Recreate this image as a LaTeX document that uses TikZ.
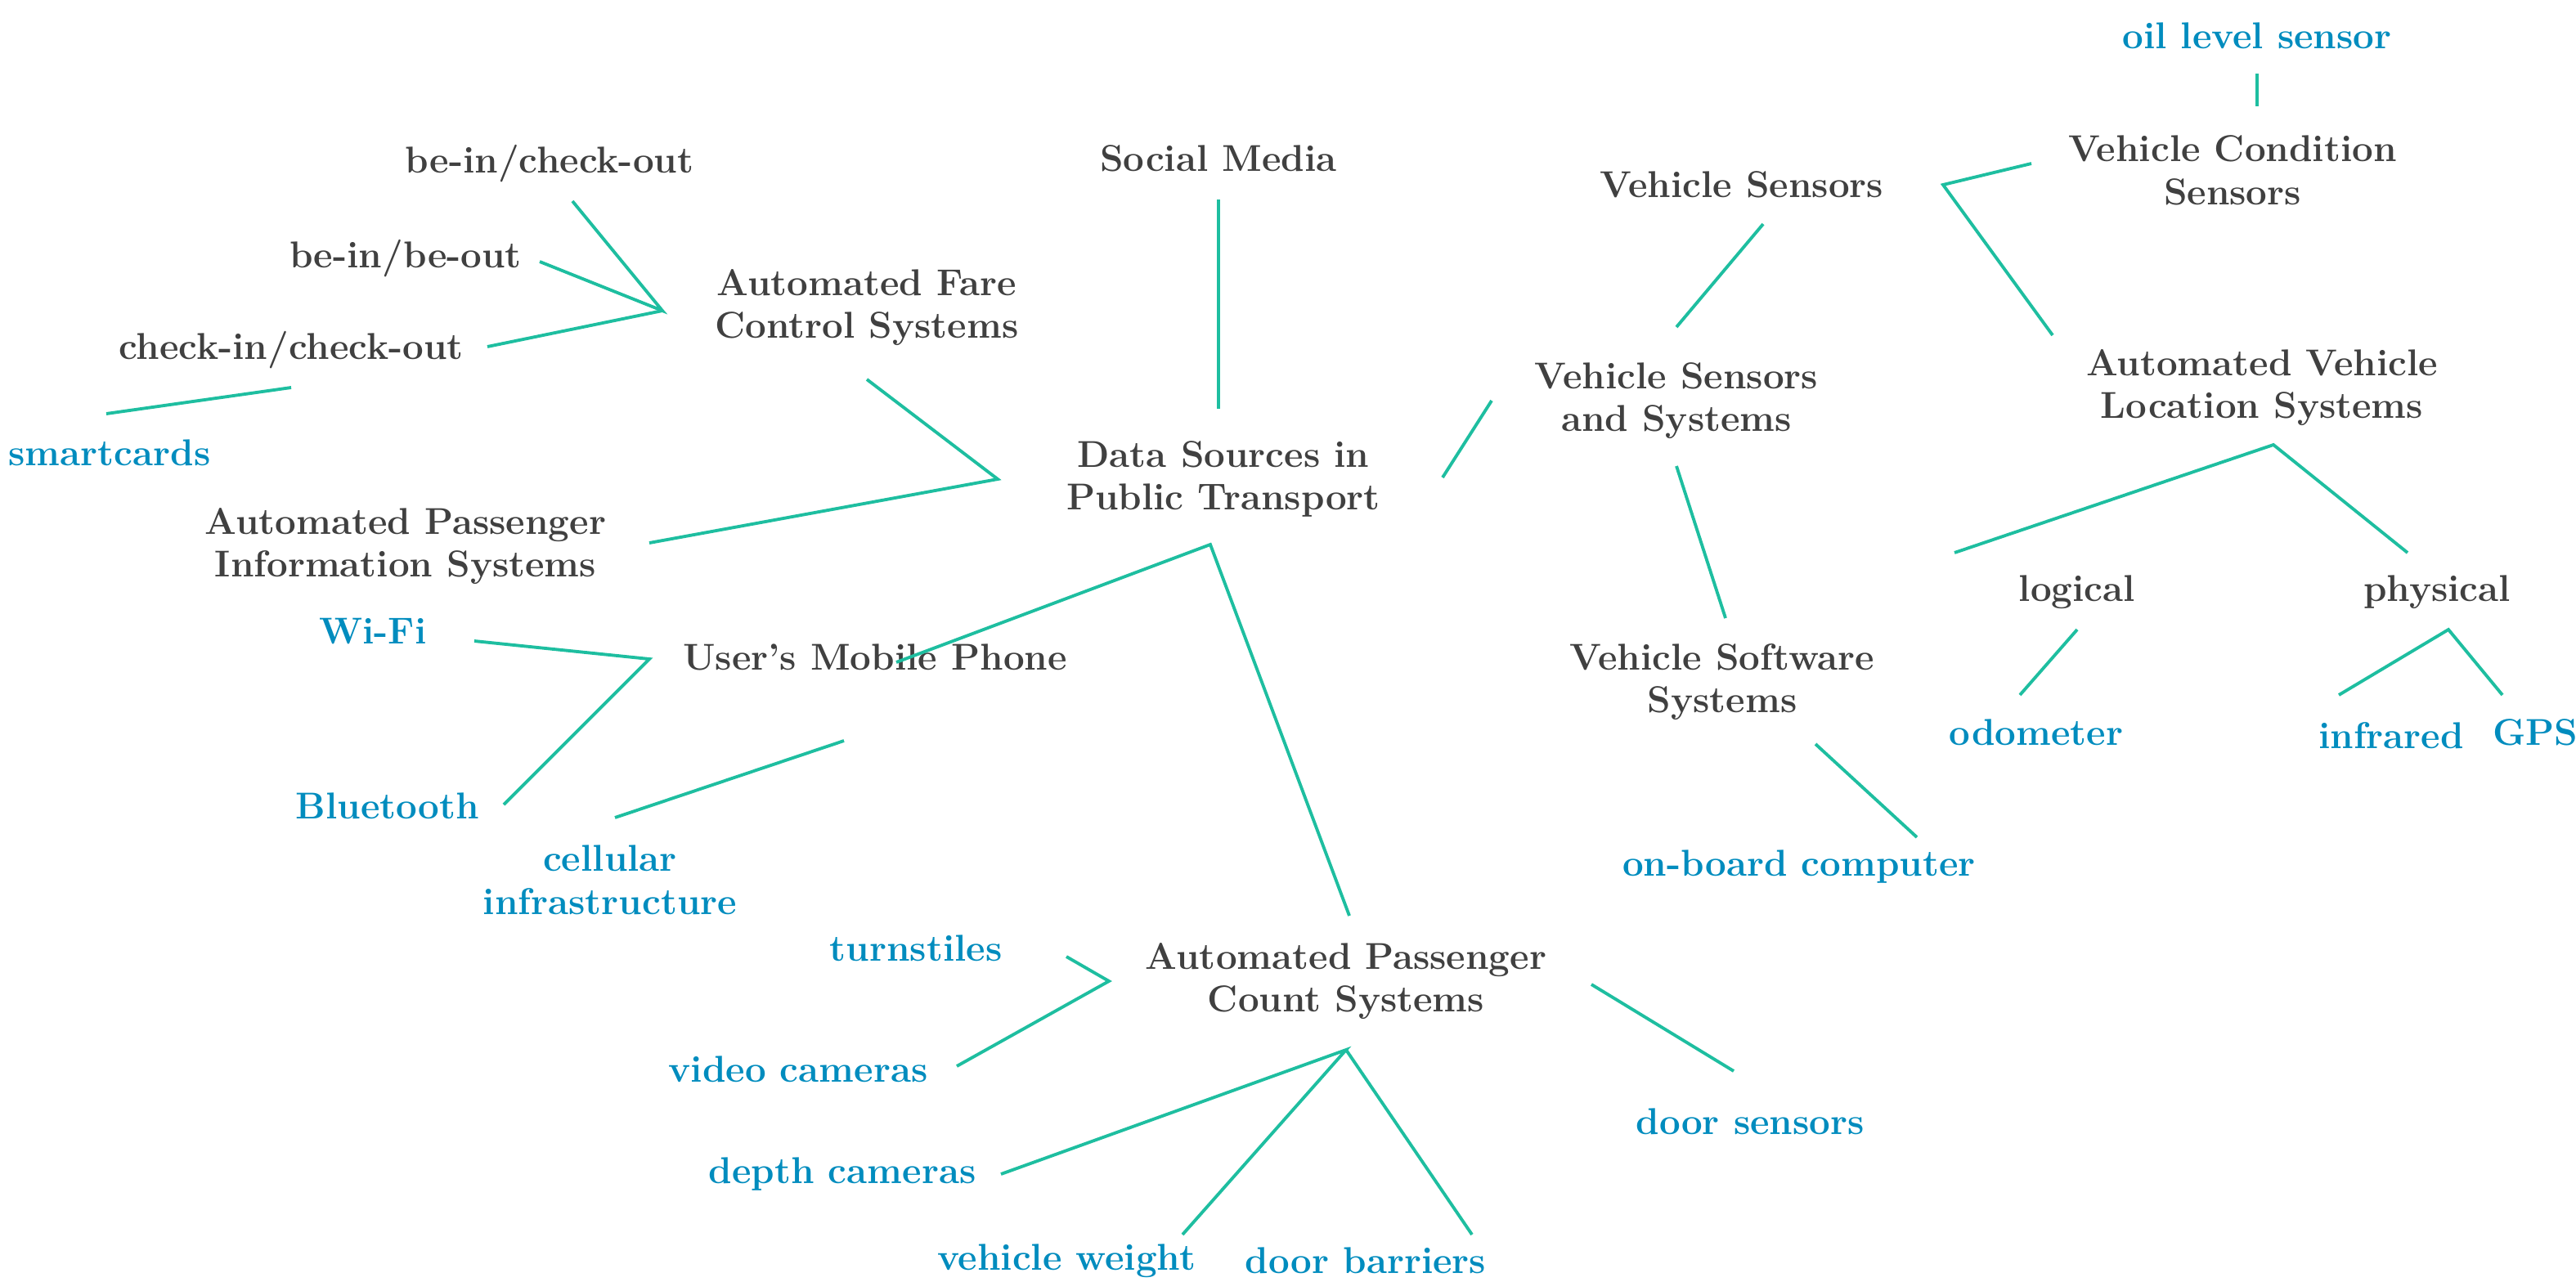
\documentclass[tikz,border=0pt]{standalone}
\begin{document}
\begin{tikzpicture}[x=0.02cm,y=-0.02cm,
  g/.style={text=gtxt,font=\fontsize{13}{15}\selectfont\bfseries,align=center,inner sep=1pt},
  b/.style={text=btxt,font=\fontsize{13}{15}\selectfont\bfseries,align=center,inner sep=1pt},
  l/.style={draw=lgreen,line width=1.1pt}]
\definecolor{gtxt}{RGB}{64,64,64}
\definecolor{btxt}{RGB}{0,140,190}
\definecolor{lgreen}{RGB}{30,190,160}
\useasboundingbox (0,0) rectangle (1575,783.5);
% nodes
\node[g] (sm) at (745,97) {Social Media};
\node[g] (bico) at (336,100) {be-in/check-out};
\node[g] (bibo) at (248,158) {be-in/be-out};
\node[g] (cico) at (178,214) {check-in/check-out};
\node[g] (afc) at (530,188) {Automated Fare\\Control Systems};
\node[b] (sc) at (67,277) {smartcards};
\node[g] (ds) at (748,293) {Data Sources in\\Public Transport};
\node[g] (api) at (248,334) {Automated Passenger\\Information Systems};
\node[g] (vs) at (1065,113) {Vehicle Sensors};
\node[b] (oil) at (1380,22) {oil level sensor};
\node[g] (vcs) at (1365,104) {Vehicle Condition\\Sensors};
\node[g] (vss) at (1025,245) {Vehicle Sensors\\and Systems};
\node[g] (avl) at (1383,237) {Automated Vehicle\\Location Systems};
\node[g] (log) at (1270,362) {logical};
\node[g] (phy) at (1490,362) {physical};
\node[b] (odo) at (1245,448) {odometer};
\node[b] (ir) at (1462,450) {infrared};
\node[b] (gps) at (1550,448) {GPS};
\node[g] (vsw) at (1053,417) {Vehicle Software\\Systems};
\node[b] (obc) at (1100,530) {on-board computer};
\node[g] (ump) at (535,402) {User's Mobile Phone};
\node[b] (wifi) at (228,386) {Wi-Fi};
\node[b] (bt) at (237,493) {Bluetooth};
\node[b] (cell) at (373,538) {cellular\\infrastructure};
\node[g] (apc) at (823,600) {Automated Passenger\\Count Systems};
\node[b] (ts) at (560,580) {turnstiles};
\node[b] (vc) at (488,654) {video cameras};
\node[b] (dc) at (515,718) {depth cameras};
\node[b] (vw) at (652,771) {vehicle weight};
\node[b] (db) at (835,771) {door barriers};
\node[b] (dsn) at (1070,686) {door sensors};
% connector end points
\coordinate (afcL) at (405,190);
\coordinate (dsL) at (610,293);
\coordinate (dsT) at (745,250);
\coordinate (dsR) at (882,292);
\coordinate (dsB) at (740,333);
\coordinate (vsR) at (1188,113);
\coordinate (avlA) at (1390,272);
\coordinate (phyA) at (1497,385);
\coordinate (umpL) at (397,403);
\coordinate (apcL) at (678,600);
\coordinate (apcB) at (823,642);
% connectors
\draw[l] (350,123) -- (afcL) -- (330,160);
\draw[l] (298,212) -- (afcL);
\draw[l] (65,253) -- (178,237);
\draw[l] (530,232) -- (dsL) -- (397,332);
\draw[l] (745,122) -- (dsT);
\draw[l] (dsR) -- (912,245);
\draw[l] (1025,200) -- (1078,137);
\draw[l] (1242,100) -- (vsR) -- (1255,205);
\draw[l] (1380,45) -- (1380,65);
\draw[l] (1025,285) -- (1055,378);
\draw[l] (1110,455) -- (1172,512);
\draw[l] (1195,338) -- (avlA) -- (1472,338);
\draw[l] (1270,385) -- (1235,425);
\draw[l] (1430,425) -- (phyA) -- (1530,425);
\draw[l] (548,405) -- (dsB) -- (825,560);
\draw[l] (290,392) -- (umpL) -- (308,492);
\draw[l] (376,500) -- (516,453);
\draw[l] (652,585) -- (apcL) -- (585,652);
\draw[l] (612,718) -- (apcB) -- (723,755);
\draw[l] (apcB) -- (900,755);
\draw[l] (973,602) -- (1060,655);
\end{tikzpicture}
\end{document}
